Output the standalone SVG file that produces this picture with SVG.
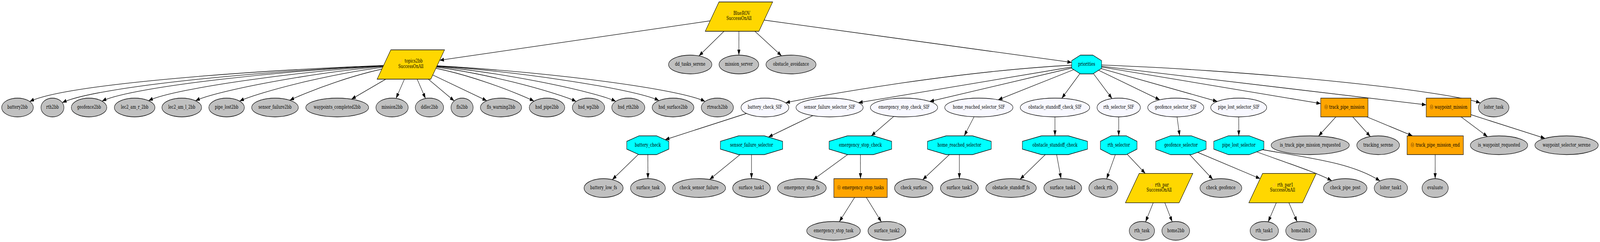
<svg xmlns="http://www.w3.org/2000/svg" width="5246" height="619" viewBox="0 0 5246 619" preserveAspectRatio="none" style="width:100vw;height:100vh;max-width:5246px;max-height:619px">
<style>
text{font-family:"DejaVu Serif","Liberation Serif",serif;font-size:12px;fill:#000;text-anchor:middle}
.g{fill:#c0c0c0;stroke:#000;stroke-width:1.3}
.w{fill:#f8f8ff;stroke:#000;stroke-width:1.3}
.c{fill:#00ffff;stroke:#000;stroke-width:1.3}
.o{fill:#ffa500;stroke:#000;stroke-width:1.3}
.y{fill:#ffd700;stroke:#000;stroke-width:1.3}
#edges path{fill:none;stroke:#000;stroke-width:1.3;marker-end:url(#ah)}
.bolt{fill:#ffe680}
.mem{fill:#7a4a00}
</style>
<defs>
<marker id="ah" markerUnits="userSpaceOnUse" markerWidth="14" markerHeight="10" viewBox="0 0 14 10" refX="14" refY="5" orient="auto"><path d="M0,0 L14,5 L0,10 z" fill="#000"/></marker>
</defs>
<rect x="0" y="0" width="5246" height="619" fill="#fff"/>
<g id="edges">
<path d="M2422.8,42.5 L1441.5,154.2"/>
<path d="M2422.8,42.5 L2291.6,143"/>
<path d="M2422.8,42.5 L2422.6,141"/>
<path d="M2422.8,42.5 L2562.5,142.8"/>
<path d="M2422.8,42.5 L3513.8,159.7"/>
<path d="M1347,165 C847.2,177.8 214.4,214.8 97.4,259.7"/>
<path d="M1347,165 C889.9,177.8 311.4,221.5 204.3,262.6"/>
<path d="M1347,165 C942,177.6 429.5,222.2 334.6,258.6"/>
<path d="M1347,165 C1003,177.5 567.8,226.5 487.1,257.5"/>
<path d="M1347,165 C1064.6,177.3 707.5,232.2 641.1,257.7"/>
<path d="M1347,165 C1122.5,177.2 838.8,238.2 785.7,258.6"/>
<path d="M1347,165 C1188.2,176.5 988.1,241.8 950.1,256.4"/>
<path d="M1347,165 L1152.5,253.6"/>
<path d="M1347,165 L1298.5,251.7"/>
<path d="M1347,165 L1395.2,251.9"/>
<path d="M1347,165 L1489.2,258.1"/>
<path d="M1347,165 L1596,257.6"/>
<path d="M1347,165 C1508.6,176.7 1712.2,243.7 1750.9,258.6"/>
<path d="M1347,165 C1563.8,177.2 1837.8,239.8 1889.1,259.5"/>
<path d="M1347,165 C1615.8,177.3 1955.6,235 2019,259.3"/>
<path d="M1347,165 C1672.4,177.4 2084.1,227.9 2160.6,257.3"/>
<path d="M1347,165 C1732.9,177.6 2221.2,224.8 2311.7,259.5"/>
<path d="M3562.8,165 C3168,177.3 2673.6,245.8 2575.9,263"/>
<path d="M3562.8,165 L2814.4,262.7"/>
<path d="M3562.8,165 L3048.3,259.5"/>
<path d="M3562.8,165 L3272.9,255.2"/>
<path d="M3562.8,165 L3481.2,251.5"/>
<path d="M3562.8,165 L3646.2,252.2"/>
<path d="M3562.8,165 L3802.6,255.3"/>
<path d="M3562.8,165 L3991.3,259.5"/>
<path d="M3562.8,165 L4330.3,264.9"/>
<path d="M3562.8,165 L4676.2,268.2"/>
<path d="M3562.8,165 C4079.2,177.7 4728.6,229.8 4853.7,263.3"/>
<path d="M2508,275 L2180.7,357.3"/>
<path d="M2124,371.5 L2007.5,459.5"/>
<path d="M2124,371.5 L2124.4,457"/>
<path d="M2720,275 L2519.4,350.6"/>
<path d="M2464,371.5 L2326.6,459"/>
<path d="M2464,371.5 L2464,457"/>
<path d="M2964,275 L2856.6,347.5"/>
<path d="M2821,371.5 L2666.2,459.8"/>
<path d="M2821,371.5 L2821.3,457"/>
<path d="M2821.5,481 L2751.9,567.1"/>
<path d="M2821.5,481 L2889.9,567.6"/>
<path d="M3209.4,275 L3161.4,347.5"/>
<path d="M3145.5,371.5 L3025.1,459.7"/>
<path d="M3145.5,371.5 L3145.5,457"/>
<path d="M3459,275 L3458.9,347.5"/>
<path d="M3458.8,371.5 L3344.5,458.6"/>
<path d="M3458.8,371.5 L3478.9,457.1"/>
<path d="M3668,275 L3668,347.5"/>
<path d="M3668,371.5 L3628.3,457.6"/>
<path d="M3668,371.5 L3755.2,443.7"/>
<path d="M3855,275 L3867.8,347.5"/>
<path d="M3872,371.5 L3976.5,458.9"/>
<path d="M3872,371.5 L4131.7,457"/>
<path d="M4061.4,275 L4061.7,347.5"/>
<path d="M4061.8,371.5 C4183.6,407.8 4307.9,437.4 4366.4,462.2"/>
<path d="M4061.8,371.5 C4246.9,400.8 4419.5,409.3 4524.6,462.8"/>
<path d="M4407.8,275 L4323.1,348.1"/>
<path d="M4407.8,275 L4493,349.2"/>
<path d="M4407.8,275 L4631,347.3"/>
<path d="M4705.7,371.5 L4705.5,457"/>
<path d="M4749.5,275 L4877.2,349.5"/>
<path d="M4749.5,275 L5065.8,353.9"/>
<path d="M3800.5,481.2 L3755.9,567.5"/>
<path d="M3800.5,481.2 L3843.4,567.3"/>
<path d="M4205.2,481.2 L4158,567.4"/>
<path d="M4205.2,481.2 L4252.9,567.3"/>
</g>
<g id="BlueROV"><polygon class="y" points="2357.3,5 2533.3,5 2488.3,80 2312.3,80"/><text x="2422.8" y="38"><tspan class="bolt">⚡</tspan> BlueROV</text><text x="2422.8" y="51.5">SuccessOnAll</text></g>
<g id="topics2bb"><polygon class="y" points="1281.5,127.5 1457.5,127.5 1412.5,202.5 1236.5,202.5"/><text x="1347" y="160.5"><tspan class="bolt">⚡</tspan> topics2bb</text><text x="1347" y="174">SuccessOnAll</text></g>
<g id="dd_tasks_serene"><ellipse class="g" cx="2263" cy="165" rx="71" ry="24"/><text x="2263" y="168.5">dd_tasks_serene</text></g>
<g id="mission_server"><ellipse class="g" cx="2422.6" cy="165" rx="65" ry="24"/><text x="2422.6" y="168.5">mission_server</text></g>
<g id="obstacle_avoidance"><ellipse class="g" cx="2593.5" cy="165" rx="82" ry="24"/><text x="2593.5" y="168.5">obstacle_avoidance</text></g>
<g id="priorities"><polygon class="c" points="3542.5,141 3583.1,141 3611.8,155.06 3611.8,174.94 3583.1,189 3542.5,189 3513.8,174.94 3513.8,155.06"/><text x="3562.8" y="168.5">priorities</text></g>
<g id="battery2bb"><ellipse class="g" cx="57.4" cy="275" rx="52" ry="24"/><text x="57.4" y="278.5">battery2bb</text></g>
<g id="rth2bb"><ellipse class="g" cx="172" cy="275" rx="37.7" ry="24"/><text x="172" y="278.5">rth2bb</text></g>
<g id="geofence2bb"><ellipse class="g" cx="292" cy="275" rx="58.25" ry="24"/><text x="292" y="278.5">geofence2bb</text></g>
<g id="lec2_am_r_2bb"><ellipse class="g" cx="441.5" cy="275" rx="66.5" ry="24"/><text x="441.5" y="278.5">lec2_am_r_2bb</text></g>
<g id="lec2_am_l_2bb"><ellipse class="g" cx="596" cy="275" rx="65" ry="24"/><text x="596" y="278.5">lec2_am_l_2bb</text></g>
<g id="pipe_lost2bb"><ellipse class="g" cx="743" cy="275" rx="58.35" ry="24"/><text x="743" y="278.5">pipe_lost2bb</text></g>
<g id="sensor_failure2bb"><ellipse class="g" cx="901.7" cy="275" rx="76.5" ry="24"/><text x="901.7" y="278.5">sensor_failure2bb</text></g>
<g id="waypoints_completed2bb"><ellipse class="g" cx="1105.6" cy="275" rx="103" ry="24"/><text x="1105.6" y="278.5">waypoints_completed2bb</text></g>
<g id="mission2bb"><ellipse class="g" cx="1285.5" cy="275" rx="53" ry="24"/><text x="1285.5" y="278.5">mission2bb</text></g>
<g id="ddlec2bb"><ellipse class="g" cx="1408" cy="275" rx="46.5" ry="24"/><text x="1408" y="278.5">ddlec2bb</text></g>
<g id="fls2bb"><ellipse class="g" cx="1515" cy="275" rx="36.35" ry="24"/><text x="1515" y="278.5">fls2bb</text></g>
<g id="fls_warning2bb"><ellipse class="g" cx="1642.6" cy="275" rx="67.5" ry="24"/><text x="1642.6" y="278.5">fls_warning2bb</text></g>
<g id="hsd_pipe2bb"><ellipse class="g" cx="1793.5" cy="275" rx="58.25" ry="24"/><text x="1793.5" y="278.5">hsd_pipe2bb</text></g>
<g id="hsd_wp2bb"><ellipse class="g" cx="1929.5" cy="275" rx="53" ry="24"/><text x="1929.5" y="278.5">hsd_wp2bb</text></g>
<g id="hsd_rth2bb"><ellipse class="g" cx="2060" cy="275" rx="54.25" ry="24"/><text x="2060" y="278.5">hsd_rth2bb</text></g>
<g id="hsd_surface2bb"><ellipse class="g" cx="2206.7" cy="275" rx="68.3" ry="24"/><text x="2206.7" y="278.5">hsd_surface2bb</text></g>
<g id="rtreach2bb"><ellipse class="g" cx="2352" cy="275" rx="52.8" ry="24"/><text x="2352" y="278.5">rtreach2bb</text></g>
<g id="battery_check_SIF"><ellipse class="w" cx="2508" cy="275" rx="78.3" ry="24"/><text x="2508" y="278.5">battery_check_SIF</text></g>
<g id="sensor_failure_selector_SIF"><ellipse class="w" cx="2720" cy="275" rx="110" ry="24"/><text x="2720" y="278.5">sensor_failure_selector_SIF</text></g>
<g id="emergency_stop_check_SIF"><ellipse class="w" cx="2964" cy="275" rx="110.25" ry="24"/><text x="2964" y="278.5">emergency_stop_check_SIF</text></g>
<g id="home_reached_selector_SIF"><ellipse class="w" cx="3209.4" cy="275" rx="111.75" ry="24"/><text x="3209.4" y="278.5">home_reached_selector_SIF</text></g>
<g id="obstacle_standoff_check_SIF"><ellipse class="w" cx="3459" cy="275" rx="113.8" ry="24"/><text x="3459" y="278.5">obstacle_standoff_check_SIF</text></g>
<g id="rth_selector_SIF"><ellipse class="w" cx="3668" cy="275" rx="71" ry="24"/><text x="3668" y="278.5">rth_selector_SIF</text></g>
<g id="geofence_selector_SIF"><ellipse class="w" cx="3855" cy="275" rx="91.85" ry="24"/><text x="3855" y="278.5">geofence_selector_SIF</text></g>
<g id="pipe_lost_selector_SIF"><ellipse class="w" cx="4061.4" cy="275" rx="91.75" ry="24"/><text x="4061.4" y="278.5">pipe_lost_selector_SIF</text></g>
<g id="track_pipe_mission"><rect class="o" x="4330.3" y="251" width="155" height="48"/><text x="4407.8" y="278.5"><tspan class="mem">Ⓜ</tspan> track_pipe_mission</text></g>
<g id="waypoint_mission"><rect class="o" x="4676.2" y="251" width="146.6" height="48"/><text x="4749.5" y="278.5"><tspan class="mem">Ⓜ</tspan> waypoint_mission</text></g>
<g id="loiter_task"><ellipse class="g" cx="4897.5" cy="275" rx="50.15" ry="24"/><text x="4897.5" y="278.5">loiter_task</text></g>
<g id="battery_check"><polygon class="c" points="2095.4,347.5 2152.6,347.5 2193,361.56 2193,381.44 2152.6,395.5 2095.4,395.5 2055,381.44 2055,361.56"/><text x="2124" y="375">battery_check</text></g>
<g id="sensor_failure_selector"><polygon class="c" points="2421.75,347.5 2506.25,347.5 2566,361.56 2566,381.44 2506.25,395.5 2421.75,395.5 2362,381.44 2362,361.56"/><text x="2464" y="375">sensor_failure_selector</text></g>
<g id="emergency_stop_check"><polygon class="c" points="2778.5,347.5 2863.5,347.5 2923.5,361.56 2923.5,381.44 2863.5,395.5 2778.5,395.5 2718.5,381.44 2718.5,361.56"/><text x="2821" y="375">emergency_stop_check</text></g>
<g id="home_reached_selector"><polygon class="c" points="3102.2,347.5 3188.8,347.5 3250,361.56 3250,381.44 3188.8,395.5 3102.2,395.5 3041,381.44 3041,361.56"/><text x="3145.5" y="375">home_reached_selector</text></g>
<g id="obstacle_standoff_check"><polygon class="c" points="3414.6,347.5 3503,347.5 3565.55,361.56 3565.55,381.44 3503,395.5 3414.6,395.5 3352.05,381.44 3352.05,361.56"/><text x="3458.8" y="375">obstacle_standoff_check</text></g>
<g id="rth_selector"><polygon class="c" points="3643.15,347.5 3692.85,347.5 3728,361.56 3728,381.44 3692.85,395.5 3643.15,395.5 3608,381.44 3608,361.56"/><text x="3668" y="375">rth_selector</text></g>
<g id="geofence_selector"><polygon class="c" points="3837.8,347.5 3906.2,347.5 3954.5,361.56 3954.5,381.44 3906.2,395.5 3837.8,395.5 3789.5,381.44 3789.5,361.56"/><text x="3872" y="375">geofence_selector</text></g>
<g id="pipe_lost_selector"><polygon class="c" points="4027.75,347.5 4095.85,347.5 4144,361.56 4144,381.44 4095.85,395.5 4027.75,395.5 3979.6,381.44 3979.6,361.56"/><text x="4061.8" y="375">pipe_lost_selector</text></g>
<g id="is_track_pipe_mission_requested"><ellipse class="g" cx="4295.9" cy="371.5" rx="128.2" ry="24"/><text x="4295.9" y="375">is_track_pipe_mission_requested</text></g>
<g id="tracking_serene"><ellipse class="g" cx="4518.6" cy="371.5" rx="70" ry="24"/><text x="4518.6" y="375">tracking_serene</text></g>
<g id="track_pipe_mission_end"><rect class="o" x="4613.5" y="347.5" width="184.4" height="48"/><text x="4705.7" y="375"><tspan class="mem">Ⓜ</tspan> track_pipe_mission_end</text></g>
<g id="is_waypoint_requested"><ellipse class="g" cx="4914.9" cy="371.5" rx="94" ry="24"/><text x="4914.9" y="375">is_waypoint_requested</text></g>
<g id="waypoint_selector_serene"><ellipse class="g" cx="5136.4" cy="371.5" rx="103.9" ry="24"/><text x="5136.4" y="375">waypoint_selector_serene</text></g>
<g id="battery_low_fs"><ellipse class="g" cx="1979" cy="481" rx="64" ry="24"/><text x="1979" y="484.5">battery_low_fs</text></g>
<g id="surface_task"><ellipse class="g" cx="2124.4" cy="481" rx="57.25" ry="24"/><text x="2124.4" y="484.5">surface_task</text></g>
<g id="check_sensor_failure"><ellipse class="g" cx="2292" cy="481" rx="87" ry="24"/><text x="2292" y="484.5">check_sensor_failure</text></g>
<g id="surface_task1"><ellipse class="g" cx="2464" cy="481" rx="61.75" ry="24"/><text x="2464" y="484.5">surface_task1</text></g>
<g id="emergency_stop_fs"><ellipse class="g" cx="2629" cy="481" rx="80" ry="24"/><text x="2629" y="484.5">emergency_stop_fs</text></g>
<g id="emergency_stop_tasks"><rect class="o" x="2734" y="457" width="175" height="48"/><text x="2821.5" y="484.5"><tspan class="mem">Ⓜ</tspan> emergency_stop_tasks</text></g>
<g id="check_surface"><ellipse class="g" cx="2996" cy="481" rx="63" ry="24"/><text x="2996" y="484.5">check_surface</text></g>
<g id="surface_task3"><ellipse class="g" cx="3145.5" cy="481" rx="62" ry="24"/><text x="3145.5" y="484.5">surface_task3</text></g>
<g id="obstacle_standoff_fs"><ellipse class="g" cx="3315" cy="481" rx="82.85" ry="24"/><text x="3315" y="484.5">obstacle_standoff_fs</text></g>
<g id="surface_task4"><ellipse class="g" cx="3484.5" cy="481" rx="62" ry="24"/><text x="3484.5" y="484.5">surface_task4</text></g>
<g id="check_rth"><ellipse class="g" cx="3617.5" cy="481" rx="47.5" ry="24"/><text x="3617.5" y="484.5">check_rth</text></g>
<g id="rth_par"><polygon class="y" points="3735,443.7 3911,443.7 3866,518.7 3690,518.7"/><text x="3800.5" y="476.7"><tspan class="bolt">⚡</tspan> rth_par</text><text x="3800.5" y="490.2">SuccessOnAll</text></g>
<g id="check_geofence"><ellipse class="g" cx="4003" cy="481" rx="68.5" ry="24"/><text x="4003" y="484.5">check_geofence</text></g>
<g id="rth_par1"><polygon class="y" points="4139.7,443.7 4315.7,443.7 4270.7,518.7 4094.7,518.7"/><text x="4205.2" y="476.7"><tspan class="bolt">⚡</tspan> rth_par1</text><text x="4205.2" y="490.2">SuccessOnAll</text></g>
<g id="check_pipe_post"><ellipse class="g" cx="4410.7" cy="481" rx="71.2" ry="24"/><text x="4410.7" y="484.5">check_pipe_post</text></g>
<g id="loiter_task1"><ellipse class="g" cx="4560.3" cy="481" rx="54.7" ry="24"/><text x="4560.3" y="484.5">loiter_task1</text></g>
<g id="evaluate"><ellipse class="g" cx="4705.5" cy="481" rx="43" ry="24"/><text x="4705.5" y="484.5">evaluate</text></g>
<g id="emergency_stop_task"><ellipse class="g" cx="2733" cy="590.5" rx="88" ry="24"/><text x="2733" y="594">emergency_stop_task</text></g>
<g id="surface_task2"><ellipse class="g" cx="2908" cy="590.5" rx="62" ry="24"/><text x="2908" y="594">surface_task2</text></g>
<g id="rth_task"><ellipse class="g" cx="3744" cy="590.5" rx="41.5" ry="24"/><text x="3744" y="594">rth_task</text></g>
<g id="home2bb"><ellipse class="g" cx="3855" cy="590.5" rx="45.5" ry="24"/><text x="3855" y="594">home2bb</text></g>
<g id="rth_task1"><ellipse class="g" cx="4145.3" cy="590.5" rx="46.5" ry="24"/><text x="4145.3" y="594">rth_task1</text></g>
<g id="home2bb1"><ellipse class="g" cx="4265.7" cy="590.5" rx="50.15" ry="24"/><text x="4265.7" y="594">home2bb1</text></g>
</svg>
